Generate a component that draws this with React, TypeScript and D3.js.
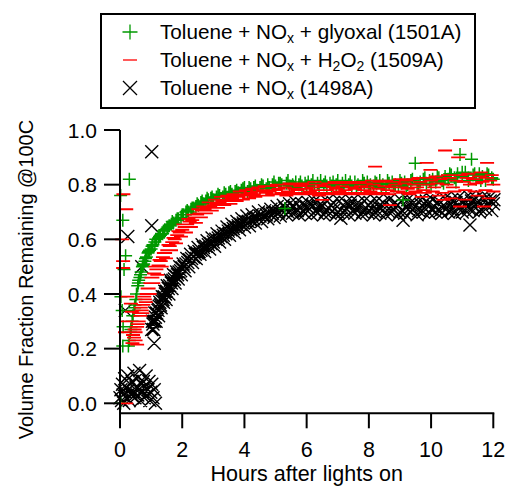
import React from "react";
import * as d3 from "d3";

// ---------- data (hours after lights on, volume fraction remaining) ----------
const seriesNames = ["glyoxal", "h2o2", "nox"];

const glyoxal1501A: [number, number][] = [
  [0.02, 0.0], [0.02, 0.76], [0.03, 0.39], [0.07, 0.34], [0.09, 0.67], [0.10, 0.28], [0.09, 0.21],
  [0.13, 0.49], [0.18, 0.54], [0.30, 0.82],
  [0.27, 0.21], [0.30, 0.23], [0.33, 0.26], [0.36, 0.28], [0.39, 0.30], [0.42, 0.32], [0.45, 0.34],
  [0.48, 0.36], [0.51, 0.38], [0.54, 0.40], [0.57, 0.43], [0.60, 0.45], [0.64, 0.46], [0.68, 0.48],
  [0.72, 0.50], [0.76, 0.51], [0.80, 0.52], [0.85, 0.535], [0.90, 0.55], [0.95, 0.56], [1.00, 0.565],
  [1.06, 0.58], [1.12, 0.59], [1.18, 0.60], [1.24, 0.605], [1.30, 0.615], [1.37, 0.62], [1.44, 0.635],
  [1.51, 0.64], [1.58, 0.65], [1.65, 0.655], [1.72, 0.66], [1.80, 0.67], [1.88, 0.675], [1.96, 0.68],
  [2.04, 0.69], [2.12, 0.70], [2.20, 0.70], [2.28, 0.71], [2.36, 0.715], [2.44, 0.72], [2.52, 0.725],
  [2.60, 0.735], [2.68, 0.73], [2.76, 0.74], [2.84, 0.745], [2.92, 0.75], [3.00, 0.745], [3.10, 0.755],
  [3.20, 0.76], [3.30, 0.755], [3.40, 0.765], [3.50, 0.77], [3.60, 0.765], [3.70, 0.775], [3.80, 0.77],
  [3.90, 0.78], [4.00, 0.79], [4.10, 0.775], [4.20, 0.785], [4.30, 0.79], [4.40, 0.78], [4.50, 0.79],
  [4.60, 0.795], [4.70, 0.785], [4.80, 0.79], [4.90, 0.80], [5.00, 0.795], [5.10, 0.805], [5.20, 0.80],
  [5.30, 0.713], [5.35, 0.805], [5.45, 0.795], [5.55, 0.80], [5.65, 0.81], [5.75, 0.80], [5.85, 0.795],
  [5.95, 0.805], [6.05, 0.81], [6.15, 0.80], [6.25, 0.79], [6.35, 0.805], [6.45, 0.815], [6.55, 0.80],
  [6.65, 0.795], [6.75, 0.805], [6.85, 0.81], [6.95, 0.80], [7.05, 0.79], [7.15, 0.805], [7.25, 0.815],
  [7.35, 0.80], [7.45, 0.795], [7.55, 0.81], [7.65, 0.80], [7.75, 0.79], [7.85, 0.805], [7.95, 0.81],
  [8.05, 0.80], [8.15, 0.795], [8.25, 0.805], [8.35, 0.815], [8.45, 0.80], [8.55, 0.79], [8.65, 0.805],
  [8.75, 0.81], [8.85, 0.80], [8.95, 0.795], [9.05, 0.805], [9.10, 0.744], [9.15, 0.81], [9.25, 0.80],
  [9.35, 0.815], [9.49, 0.878], [9.55, 0.805], [9.65, 0.81], [9.75, 0.82], [9.85, 0.805], [9.95, 0.815],
  [10.05, 0.82], [10.15, 0.81], [10.25, 0.825], [10.35, 0.815], [10.45, 0.83], [10.55, 0.82], [10.65, 0.835],
  [10.75, 0.825], [10.85, 0.84], [10.93, 0.91], [11.00, 0.83], [11.10, 0.845], [11.20, 0.825], [11.30, 0.893],
  [11.35, 0.835], [11.45, 0.82], [11.55, 0.84], [11.65, 0.83], [11.75, 0.815], [11.85, 0.835], [11.95, 0.825],
  // second pass of readings
  [0.29, 0.23], [0.35, 0.27], [0.41, 0.32], [0.47, 0.35], [0.53, 0.40], [0.59, 0.44], [0.66, 0.47],
  [0.74, 0.505], [0.82, 0.53], [0.92, 0.555], [1.03, 0.575], [1.15, 0.60], [1.27, 0.61], [1.40, 0.63],
  [1.54, 0.645], [1.68, 0.665], [1.84, 0.675], [2.00, 0.69], [2.16, 0.705], [2.32, 0.715], [2.48, 0.73],
  [2.64, 0.74], [2.80, 0.75], [2.96, 0.755], [3.15, 0.765], [3.35, 0.77], [3.55, 0.775], [3.75, 0.78],
  [3.95, 0.785], [4.15, 0.79], [4.35, 0.795], [4.55, 0.80], [4.75, 0.80], [4.95, 0.81], [5.15, 0.805],
  [5.40, 0.815], [5.60, 0.79], [5.80, 0.81], [6.00, 0.795], [6.20, 0.815], [6.40, 0.79], [6.60, 0.81],
  [6.80, 0.795], [7.00, 0.815], [7.20, 0.79], [7.40, 0.81], [7.60, 0.79], [7.80, 0.815], [8.00, 0.795],
  [8.20, 0.81], [8.40, 0.79], [8.60, 0.815], [8.80, 0.795], [9.00, 0.815], [9.20, 0.79], [9.40, 0.82],
  [9.60, 0.80], [9.80, 0.825], [10.00, 0.80], [10.20, 0.83], [10.40, 0.805], [10.60, 0.84], [10.80, 0.81],
  [11.00, 0.845], [11.20, 0.815], [11.40, 0.84], [11.60, 0.815], [11.80, 0.84], [12.00, 0.82],
];

const h2o21509A: [number, number][] = [
  [0.11, 0.765], [0.20, 0.71], [0.07, 0.60], [0.10, 0.52], [0.10, 0.495], [0.24, 0.39], [0.35, 0.365],
  [0.38, 0.335], [0.20, 0.30], [0.16, 0.26], [0.50, 0.23], [0.55, 0.215], [0.20, 0.0],
  [0.40, 0.22], [0.45, 0.24], [0.50, 0.26], [0.55, 0.28], [0.60, 0.30], [0.65, 0.32], [0.70, 0.34],
  [0.75, 0.36], [0.80, 0.38], [0.86, 0.40], [0.92, 0.42], [0.98, 0.44], [1.04, 0.46], [1.10, 0.475],
  [1.17, 0.49], [1.24, 0.505], [1.31, 0.52], [1.38, 0.535], [1.45, 0.55], [1.52, 0.56], [1.60, 0.575],
  [1.68, 0.59], [1.76, 0.60], [1.84, 0.615], [1.92, 0.625], [2.00, 0.635], [2.08, 0.645], [2.16, 0.655],
  [2.24, 0.665], [2.32, 0.67], [2.40, 0.68], [2.48, 0.69], [2.56, 0.695], [2.64, 0.705], [2.72, 0.71],
  [2.80, 0.715], [2.90, 0.72], [3.00, 0.725], [3.10, 0.73], [3.20, 0.735], [3.30, 0.74], [3.40, 0.745],
  [3.50, 0.745], [3.60, 0.75], [3.70, 0.755], [3.80, 0.755], [3.90, 0.76], [4.00, 0.765], [4.10, 0.76],
  [4.20, 0.77], [4.30, 0.765], [4.40, 0.775], [4.50, 0.76], [4.60, 0.78], [4.70, 0.77], [4.80, 0.775],
  [4.90, 0.765], [5.00, 0.78], [5.10, 0.785], [5.20, 0.77], [5.30, 0.79], [5.40, 0.775], [5.50, 0.765],
  [5.60, 0.785], [5.70, 0.78], [5.80, 0.795], [5.90, 0.77], [6.00, 0.785], [6.10, 0.775], [6.20, 0.79],
  [6.30, 0.78], [6.40, 0.76], [6.50, 0.744], [6.55, 0.795], [6.65, 0.78], [6.75, 0.77], [6.85, 0.79],
  [6.95, 0.785], [7.05, 0.775], [7.15, 0.795], [7.25, 0.78], [7.35, 0.77], [7.45, 0.79], [7.55, 0.785],
  [7.65, 0.765], [7.75, 0.795], [7.85, 0.78], [7.95, 0.79], [8.05, 0.775], [8.15, 0.80], [8.20, 0.866],
  [8.30, 0.785], [8.40, 0.77], [8.50, 0.795], [8.60, 0.78], [8.68, 0.725], [8.75, 0.79], [8.85, 0.80],
  [8.95, 0.775], [9.05, 0.79], [9.15, 0.805], [9.25, 0.785], [9.35, 0.77], [9.45, 0.80], [9.55, 0.79],
  [9.65, 0.81], [9.70, 0.755], [9.75, 0.78], [9.86, 0.88], [9.90, 0.80], [9.98, 0.854], [10.00, 0.815],
  [10.10, 0.79], [10.20, 0.805], [10.25, 0.76], [10.30, 0.82], [10.40, 0.744], [10.45, 0.925], [10.50, 0.80],
  [10.60, 0.825], [10.65, 0.75], [10.70, 0.79], [10.80, 0.815], [10.87, 0.90], [10.93, 0.72], [10.93, 0.963],
  [11.05, 0.81], [11.10, 0.745], [11.15, 0.825], [11.25, 0.80], [11.35, 0.82], [11.45, 0.805], [11.50, 0.76],
  [11.55, 0.83], [11.65, 0.81], [11.70, 0.72], [11.80, 0.825], [11.80, 0.88], [11.85, 0.75], [11.90, 0.815],
  [12.00, 0.80],
  // second pass of readings
  [0.42, 0.25], [0.47, 0.27], [0.52, 0.30], [0.57, 0.29], [0.62, 0.33], [0.67, 0.35], [0.72, 0.33],
  [0.78, 0.39], [0.83, 0.37], [0.89, 0.42], [0.95, 0.40], [1.01, 0.46], [1.07, 0.44], [1.14, 0.50],
  [1.20, 0.47], [1.27, 0.525], [1.34, 0.50], [1.41, 0.55], [1.48, 0.53], [1.56, 0.58], [1.64, 0.56],
  [1.72, 0.605], [1.80, 0.585], [1.88, 0.63], [1.96, 0.61], [2.04, 0.655], [2.12, 0.625], [2.20, 0.675],
  [2.28, 0.645], [2.36, 0.69], [2.44, 0.66], [2.52, 0.71], [2.60, 0.68], [2.68, 0.72], [2.76, 0.695],
  [2.85, 0.735], [2.95, 0.705], [3.05, 0.745], [3.15, 0.715], [3.25, 0.755], [3.35, 0.725], [3.45, 0.76],
  [3.55, 0.73], [3.65, 0.765], [3.75, 0.74], [3.85, 0.775], [3.95, 0.745], [4.05, 0.78], [4.15, 0.75],
  [4.25, 0.785], [4.35, 0.755], [4.45, 0.79], [4.55, 0.76], [4.65, 0.795], [4.75, 0.76], [4.85, 0.795],
  [4.95, 0.765], [5.05, 0.80], [5.15, 0.765], [5.25, 0.80], [5.35, 0.76], [5.45, 0.805], [5.55, 0.77],
  [5.65, 0.80], [5.75, 0.765], [5.85, 0.805], [5.95, 0.77], [6.05, 0.80], [6.15, 0.765], [6.25, 0.81],
  [6.35, 0.77], [6.45, 0.80], [6.60, 0.765], [6.70, 0.805], [6.80, 0.77], [6.90, 0.81], [7.00, 0.765],
  [7.10, 0.805], [7.20, 0.77], [7.30, 0.81], [7.40, 0.765], [7.50, 0.805], [7.60, 0.77], [7.70, 0.81],
  [7.80, 0.765], [7.90, 0.805], [8.00, 0.77], [8.10, 0.815], [8.25, 0.765], [8.35, 0.81], [8.45, 0.77],
  [8.55, 0.815], [8.65, 0.765], [8.80, 0.81], [8.90, 0.775], [9.00, 0.82], [9.10, 0.77], [9.20, 0.815],
  [9.30, 0.765], [9.40, 0.82], [9.50, 0.775], [9.60, 0.825], [9.80, 0.77], [9.95, 0.825], [10.05, 0.775],
  [10.15, 0.83], [10.35, 0.77], [10.55, 0.835], [10.75, 0.775], [10.95, 0.835], [11.10, 0.78], [11.20, 0.84],
  [11.40, 0.775], [11.60, 0.845], [11.75, 0.78], [11.95, 0.835], [12.00, 0.775],
];

const nox1498A: [number, number][] = [
  [0.00, 0.02], [0.03, 0.05], [0.05, 0.01], [0.08, 0.07], [0.10, 0.03], [0.12, 0.00], [0.15, 0.09],
  [0.18, 0.04], [0.20, 0.06], [0.22, 0.02], [0.25, 0.10], [0.28, 0.05], [0.30, 0.01], [0.33, 0.07],
  [0.36, 0.03], [0.39, 0.08], [0.42, 0.04], [0.45, 0.11], [0.48, 0.02], [0.51, 0.06], [0.54, 0.09],
  [0.57, 0.03], [0.60, 0.05], [0.63, 0.12], [0.66, 0.01], [0.69, 0.07], [0.72, 0.04], [0.75, 0.08],
  [0.78, 0.02], [0.81, 0.06], [0.84, 0.10], [0.87, 0.03], [0.90, 0.05], [0.93, 0.08], [0.96, 0.01],
  [0.99, 0.04], [1.02, 0.07], [1.06, 0.02], [1.10, 0.05], [1.14, 0.00],
  [0.25, 0.61], [0.17, 0.34], [0.70, 0.50], [1.02, 0.92], [1.02, 0.65], [1.10, 0.22],
  [1.02, 0.27], [1.06, 0.29], [1.10, 0.30], [1.14, 0.315], [1.18, 0.33], [1.22, 0.34], [1.26, 0.355],
  [1.30, 0.36], [1.34, 0.375], [1.38, 0.38], [1.42, 0.39], [1.46, 0.40], [1.50, 0.41], [1.55, 0.42],
  [1.60, 0.43], [1.65, 0.44], [1.70, 0.45], [1.75, 0.455], [1.80, 0.465], [1.85, 0.47], [1.90, 0.48],
  [1.95, 0.485], [2.00, 0.495], [2.06, 0.50], [2.12, 0.51], [2.18, 0.515], [2.24, 0.525], [2.30, 0.53],
  [2.36, 0.535], [2.42, 0.545], [2.48, 0.55], [2.54, 0.555], [2.60, 0.56], [2.68, 0.57], [2.76, 0.575],
  [2.84, 0.58], [2.92, 0.585], [3.00, 0.59], [3.08, 0.60], [3.16, 0.605], [3.24, 0.61], [3.32, 0.615],
  [3.40, 0.62], [3.48, 0.63], [3.56, 0.635], [3.64, 0.64], [3.72, 0.645], [3.80, 0.65], [3.88, 0.655],
  [3.96, 0.66], [4.04, 0.665], [4.12, 0.665], [4.20, 0.67], [4.30, 0.675], [4.40, 0.68], [4.50, 0.685],
  [4.60, 0.685], [4.70, 0.69], [4.80, 0.695], [4.90, 0.695], [5.00, 0.70], [5.10, 0.70], [5.20, 0.705],
  [5.30, 0.715], [5.40, 0.70], [5.50, 0.71], [5.60, 0.72], [5.70, 0.705], [5.80, 0.715], [5.90, 0.70],
  [6.00, 0.72], [6.10, 0.71], [6.20, 0.725], [6.30, 0.705], [6.40, 0.715], [6.50, 0.72], [6.60, 0.70],
  [6.70, 0.715], [6.80, 0.725], [6.90, 0.71], [7.00, 0.70], [7.10, 0.677], [7.20, 0.72], [7.30, 0.71],
  [7.40, 0.725], [7.50, 0.705], [7.60, 0.715], [7.70, 0.72], [7.80, 0.70], [7.90, 0.715], [8.00, 0.725],
  [8.10, 0.71], [8.20, 0.70], [8.30, 0.72], [8.40, 0.715], [8.50, 0.73], [8.60, 0.705], [8.70, 0.72],
  [8.80, 0.71], [8.90, 0.725], [9.00, 0.70], [9.10, 0.67], [9.20, 0.715], [9.30, 0.73], [9.40, 0.71],
  [9.50, 0.72], [9.60, 0.705], [9.70, 0.725], [9.80, 0.715], [9.90, 0.73], [10.00, 0.71], [10.10, 0.72],
  [10.20, 0.735], [10.30, 0.705], [10.40, 0.725], [10.50, 0.715], [10.60, 0.73], [10.70, 0.71], [10.80, 0.735],
  [10.90, 0.72], [11.00, 0.70], [11.10, 0.73], [11.20, 0.715], [11.25, 0.652], [11.30, 0.74], [11.40, 0.72],
  [11.50, 0.735], [11.60, 0.71], [11.70, 0.745], [11.80, 0.725], [11.90, 0.74], [12.00, 0.73],
  // second pass of readings
  [1.04, 0.30], [1.08, 0.27], [1.12, 0.33], [1.16, 0.30], [1.20, 0.35], [1.24, 0.32], [1.28, 0.37],
  [1.32, 0.35], [1.36, 0.39], [1.40, 0.37], [1.44, 0.41], [1.48, 0.38], [1.52, 0.43], [1.57, 0.40],
  [1.62, 0.45], [1.67, 0.42], [1.72, 0.47], [1.77, 0.44], [1.82, 0.48], [1.87, 0.455], [1.92, 0.50],
  [1.97, 0.47], [2.03, 0.51], [2.09, 0.485], [2.15, 0.53], [2.21, 0.50], [2.27, 0.545], [2.33, 0.515],
  [2.39, 0.555], [2.45, 0.53], [2.51, 0.57], [2.57, 0.545], [2.64, 0.58], [2.72, 0.555], [2.80, 0.595],
  [2.88, 0.565], [2.96, 0.605], [3.04, 0.575], [3.12, 0.62], [3.20, 0.59], [3.28, 0.63], [3.36, 0.60],
  [3.44, 0.645], [3.52, 0.615], [3.60, 0.655], [3.68, 0.625], [3.76, 0.665], [3.84, 0.635], [3.92, 0.675],
  [4.00, 0.645], [4.08, 0.685], [4.16, 0.65], [4.25, 0.69], [4.35, 0.66], [4.45, 0.70], [4.55, 0.665],
  [4.65, 0.705], [4.75, 0.675], [4.85, 0.71], [4.95, 0.68], [5.05, 0.72], [5.15, 0.685], [5.25, 0.725],
  [5.35, 0.69], [5.45, 0.73], [5.55, 0.695], [5.65, 0.735], [5.75, 0.69], [5.85, 0.73], [5.95, 0.695],
  [6.05, 0.735], [6.15, 0.69], [6.25, 0.74], [6.35, 0.695], [6.45, 0.73], [6.55, 0.69], [6.65, 0.74],
  [6.75, 0.695], [6.85, 0.735], [6.95, 0.69], [7.05, 0.74], [7.15, 0.70], [7.25, 0.735], [7.35, 0.69],
  [7.45, 0.74], [7.55, 0.695], [7.65, 0.735], [7.75, 0.69], [7.85, 0.74], [7.95, 0.70], [8.05, 0.735],
  [8.15, 0.69], [8.25, 0.74], [8.35, 0.695], [8.45, 0.735], [8.55, 0.69], [8.65, 0.745], [8.75, 0.70],
  [8.85, 0.735], [8.95, 0.69], [9.05, 0.74], [9.15, 0.695], [9.25, 0.745], [9.35, 0.70], [9.45, 0.735],
  [9.55, 0.69], [9.65, 0.745], [9.75, 0.70], [9.85, 0.74], [9.95, 0.695], [10.05, 0.745], [10.15, 0.70],
  [10.25, 0.74], [10.35, 0.695], [10.45, 0.75], [10.55, 0.70], [10.65, 0.745], [10.75, 0.695], [10.85, 0.75],
  [10.95, 0.705], [11.05, 0.745], [11.15, 0.70], [11.25, 0.755], [11.35, 0.705], [11.45, 0.75], [11.55, 0.70],
  [11.65, 0.755], [11.75, 0.71], [11.85, 0.75], [11.95, 0.705], [12.02, 0.745],
];

const legendLabels = [
  { main: "Toluene + NO", sub: "x", rest: [" + glyoxal (1501A)"] },
  { main: "Toluene + NO", sub: "x", rest: [" + H", "2", "O", "2", " (1509A)"] },
  { main: "Toluene + NO", sub: "x", rest: [" (1498A)"] },
];

const xTicks = [0, 2, 4, 6, 8, 10, 12];
const yTicks = [0.0, 0.2, 0.4, 0.6, 0.8, 1.0];
const xTitle = "Hours after lights on";
const yTitle = "Volume Fraction Remaining @100C";

// ---------- styling ----------
const W = 506;
const H = 487;
const FONT = "Arial, 'Liberation Sans', sans-serif";
const GREEN = "#009900";
const RED = "#ff0000";
const BLACK = "#000000";

function plusPath(x: number, y: number, r: number) {
  return `M${x - r},${y}H${x + r}M${x},${y - r}V${y + r}`;
}
function dashPath(x: number, y: number, r: number) {
  return `M${x - r},${y}H${x + r}`;
}
function crossPath(x: number, y: number, r: number) {
  return `M${x - r},${y - r}L${x + r},${y + r}M${x - r},${y + r}L${x + r},${y - r}`;
}

export default function App() {
  const x = d3.scaleLinear().domain([0, 12]).range([120, 493.3]);
  const y = d3.scaleLinear().domain([0, 1]).range([403.3, 130]);
  const axisY = 413.3;
  const axisX = 120;

  const series = [
    { name: seriesNames[2], data: nox1498A, color: BLACK, shape: crossPath, r: 6.5, sw: 1.4 },
    { name: seriesNames[0], data: glyoxal1501A, color: GREEN, shape: plusPath, r: 6.5, sw: 1.5 },
    { name: seriesNames[1], data: h2o21509A, color: RED, shape: dashPath, r: 7, sw: 1.8 },
  ];

  const legendItems = [
    { color: GREEN, shape: plusPath, r: 7.5 },
    { color: RED, shape: dashPath, r: 7 },
    { color: BLACK, shape: crossPath, r: 7 },
  ];

  const fmtY = d3.format(".1f");

  return (
    <svg
      width={W}
      height={H}
      style={{ position: "absolute", left: 0, top: 0, background: "#fff" }}
      fontFamily={FONT}
    >
      <rect width={W} height={H} fill="#fff" />
      {series.map((s) => (
        <path
          key={s.name}
          d={s.data.map(([h, v]) => s.shape(x(h), y(v), s.r)).join("")}
          stroke={s.color}
          strokeWidth={s.sw}
          fill="none"
        />
      ))}

      {/* axes */}
      <line x1={axisX} x2={axisX} y1={y(1)} y2={axisY + 1} stroke="#000" strokeWidth={2} />
      <line x1={axisX - 1} x2={x(12) + 1} y1={axisY} y2={axisY} stroke="#000" strokeWidth={2} />
      {yTicks.map((t) => (
        <g key={t}>
          <line x1={axisX - 16} x2={axisX} y1={y(t)} y2={y(t)} stroke="#000" strokeWidth={2} />
          <text x={97} y={y(t)} dy="0.36em" textAnchor="end" fontSize={21}>
            {fmtY(t)}
          </text>
        </g>
      ))}
      {xTicks.map((t) => (
        <g key={t}>
          <line x1={x(t)} x2={x(t)} y1={axisY} y2={axisY + 15} stroke="#000" strokeWidth={2} />
          <text x={x(t)} y={457} textAnchor="middle" fontSize={21.5}>
            {t}
          </text>
        </g>
      ))}
      <text x={(x(0) + x(12)) / 2} y={481} textAnchor="middle" fontSize={21.5}>
        {xTitle}
      </text>
      <text transform={`translate(33,${279.5}) rotate(-90)`} textAnchor="middle" fontSize={20}>
        {yTitle}
      </text>

      {/* legend */}
      <rect x={101} y={14} width={374} height={94} fill="#fff" stroke="#000" strokeWidth={2} />
      {legendLabels.map((l, i) => {
        const cy = 32 + i * 28;
        const it = legendItems[i];
        return (
          <g key={i}>
            <path d={it.shape(130, cy, it.r)} stroke={it.color} strokeWidth={1.3} fill="none" />
            <text x={160} y={cy + 7.3} fontSize={20.7}>
              {l.main}
              <tspan fontSize={14} dy={3.5}>{l.sub}</tspan>
              {l.rest.map((r, k) => {
                const isSub = r === "2";
                const prevSub = k === 0 ? true : l.rest[k - 1] === "2";
                const dy = isSub ? 3.5 : prevSub ? -3.5 : 0;
                return (
                  <tspan key={k} fontSize={isSub ? 14 : 20.7} dy={dy}>
                    {r}
                  </tspan>
                );
              })}
            </text>
          </g>
        );
      })}
    </svg>
  );
}
